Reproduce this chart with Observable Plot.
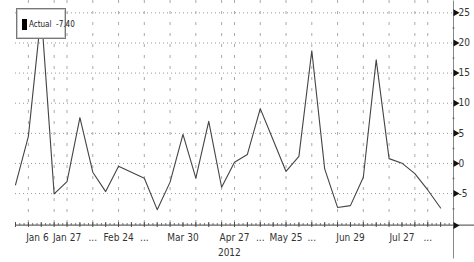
<!DOCTYPE html>
<html>
<head>
<meta charset="utf-8">
<script src="https://cdn.jsdelivr.net/npm/d3@7"></script>
<script src="https://cdn.jsdelivr.net/npm/@observablehq/plot@0.6"></script>
<style>
  html, body { margin: 0; padding: 0; background: #fff; }
  #wrap { position: relative; width: 474px; height: 262px; overflow: hidden; }
  #legend {
    position: absolute; left: 16px; top: 8px; width: 48px; height: 29px;
    background: #fff; border: 1px solid #777; box-shadow: inset 0 0 0 1px #ccc;
    font-family: "Liberation Sans Narrow", "DejaVu Sans Condensed", sans-serif;
    font-size: 8px; color: #222;
  }
  #legend .sw { position: absolute; left: 5px; top: 10px; width: 5px; height: 11px; background: #000; }
  #legend .tx { position: absolute; left: 12px; top: 11px; line-height: 9px; white-space: nowrap; }
</style>
</head>
<body>
<div id="wrap"><div id="legend"><span class="sw"></span><span class="tx">Actual&nbsp; -7.40</span></div></div>
<script>
// Weekly series (Fridays), starting Dec 30, 2011
const startDate = "2011-12-30";
const values = [
  -3.55, 4.5, 25.0, -5.05, -3.0, 7.6, -1.45, -4.67, -0.45, -1.45,
  -2.45, -7.67, -3.1, 4.83, -2.45, 7.0, -3.95, 0.2, 1.5, 9.1,
  3.9, -1.33, 1.17, 18.7, -0.9, -7.3, -7.0, -2.3, 17.2, 0.8,
  0.05, -1.7, -4.4, -7.4
];
const xTickLabels = ["Jan 6", "Jan 27", "...", "Feb 24", "...", "Mar 30", "Apr 27", "...", "May 25", "...", "Jun 29", "Jul 27", "..."];
const xTickWeeks  = [1.7, 4, 6, 8, 10, 13, 17, 19, 21, 23, 26, 30, 32];
const gridWeeks   = [1, 3, 4, 6, 8, 10, 12, 14, 16, 17, 19, 21, 23, 25, 27, 29, 31, 32];
const yTicks = [-5, 0, 5, 10, 15, 20, 25];
const yMinorTicks = [-7.5, -2.5, 2.5, 7.5, 12.5, 17.5, 22.5];
const yearLabel = "2012";

const t0 = new Date(startDate + "T00:00:00Z");
const wk = i => new Date(+t0 + i * 7 * 864e5);
const data = values.map((v, i) => ({date: wk(i), value: v}));

const xDomain = [t0, wk(34)];
const yDomain = [-10.3, 27.05];
const H = 262, mTop = 0, mBottom = 37;
const pxPerUnit = (H - mTop - mBottom) / (yDomain[1] - yDomain[0]);
const yBase = yDomain[0] + 0.3 / pxPerUnit;
const yBelow = px => yDomain[0] - px / pxPerUnit;
const yAbove = px => yDomain[0] + px / pxPerUnit;
const endX = xDomain[1];
const farRight = wk(34 + 21 / (438 / 34));

const minorTicks = d3.range(0, 34 * 3 + 1).map(k => wk(k / 3));
const weekTicks = d3.range(0, 35).map(k => wk(k));

const font = "'Liberation Sans Narrow', 'DejaVu Sans Condensed', sans-serif";

const chart = Plot.plot({
  width: 474,
  height: H,
  marginLeft: 15,
  marginRight: 21,
  marginTop: mTop,
  marginBottom: mBottom,
  x: {type: "utc", domain: xDomain, axis: null},
  y: {domain: yDomain, axis: null},
  style: {fontFamily: font, background: "#fff"},
  marks: [
    Plot.ruleY(yTicks, {stroke: "#9a9a9a", strokeWidth: 1, strokeDasharray: "1,3"}),
    Plot.ruleX(gridWeeks.map(wk), {stroke: "#aaa", strokeWidth: 1, strokeDasharray: "3,8"}),
    Plot.line(data, {x: "date", y: "value", stroke: "#444", strokeWidth: 1.1}),
    // x axis line and ticks
    Plot.link([0], {x1: () => t0, x2: () => farRight, y1: () => yBase, y2: () => yBase, stroke: "#666", strokeWidth: 1.2}),
    Plot.link(minorTicks, {x1: d => d, x2: d => d, y1: () => yBase, y2: () => yAbove(2.5), stroke: "#555", strokeWidth: 0.8}),
    Plot.link(weekTicks, {x1: d => d, x2: d => d, y1: () => yBelow(1.5), y2: () => yAbove(3.5), stroke: "#444", strokeWidth: 0.9}),
    // y axis line
    Plot.link([0], {x1: () => endX, x2: () => endX, y1: () => yDomain[1], y2: () => yBelow(33), stroke: "#888", strokeWidth: 1}),
    Plot.dot(yMinorTicks, {x: () => endX, y: d => d, r: 0.9, fill: "#666", stroke: null}),
    Plot.dot([...yTicks, yDomain[0]], {x: () => endX, y: d => d, symbol: "triangle", rotate: 90, r: 2.6, fill: "#111", stroke: null, dx: 2}),
    Plot.text(yTicks, {x: () => endX, y: d => d, text: d => String(d), textAnchor: "start", dx: 5, fontSize: 10, fill: "#333"}),
    // x labels
    Plot.text(xTickLabels, {x: (d, i) => wk(xTickWeeks[i]), y: () => yDomain[0], text: d => d, dy: 12, fontSize: 10, fill: "#333"}),
    Plot.text([yearLabel], {x: () => wk(16.6), y: () => yDomain[0], text: d => d, dy: 27, fontSize: 10, fill: "#333"})
  ]
});
document.getElementById("wrap").prepend(chart);
</script>
</body>
</html>
